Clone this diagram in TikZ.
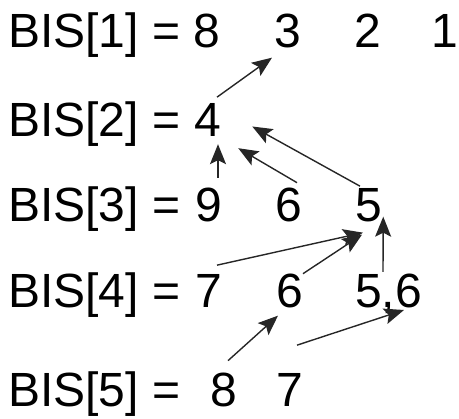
\documentclass[tikz,border=0pt]{standalone}
\usepackage{fontspec}
\setmainfont{Liberation Sans}
\usetikzlibrary{arrows.meta,calc}
\tikzset{
  lbl/.style={anchor=base west,inner sep=0pt,font=\fontsize{48}{50}\selectfont},
  num/.style={anchor=base,inner sep=0pt,font=\fontsize{48}{50}\selectfont},
  arrtip/.tip={Stealth[length=20pt,width=16pt,inset=4pt]},
  arr/.style={line width=1.4pt,color=black!85,-arrtip}
}
\begin{document}
\begin{tikzpicture}[x=1pt,y=1pt]
\useasboundingbox (0,0) rectangle (459,419);
% row labels
\node[lbl] (r1) at (8,371) {BIS[1] =};
\node[lbl] (r2) at (8,282) {BIS[2] =};
\node[lbl] (r3) at (8,197) {BIS[3] =};
\node[lbl] (r4) at (8,111) {BIS[4] =};
\node[lbl] (r5) at (8,12) {BIS[5] =};
% numbers
\node[num] (n11) at (207,371) {8};
\node[num] (n12) at (288,371) {3};
\node[num] (n13) at (368,371) {2};
\node[num] (n14) at (445,371) {1};
\node[num] (n21) at (208,282) {4};
\node[num] (n31) at (209,197) {9};
\node[num] (n32) at (289,197) {6};
\node[num] (n33) at (369,197) {5};
\node[num] (n41) at (209,111) {7};
\node[num] (n42) at (290,111) {6};
\node[lbl] (n43) at (355,111) {5,6};
\node[num] (n51) at (223.5,12) {8};
\node[num] (n52) at (290,12) {7};
% arrows
\draw[arr] ($(n21.north)+(9,6.6)$) -- ($(n12.south)+(-16,-9)$);
\draw[arr] ($(n33.north)+(-9,2.6)$) -- ($(n21.east)+(30.7,-6)$);
\draw[arr] ($(n32.north)+(8,5.6)$) -- ($(n21.south east)+(16.7,-11)$);
\draw[arr] ($(n31.north)+(9,10.6)$) -- ($(n21.south)+(10,-7)$);
\draw[arr] ($(n41.north)+(8,9.6)$) -- ($(n33.south)+(-6,-10)$);
\draw[arr] ($(n42.north)+(13,0.6)$) -- ($(n33.south)+(-7,-12)$);
\draw[arr] ($(n43.base west)+(28,36)$) -- ($(n33.south east)+(0.7,6)$);
\draw[arr] ($(n51.north)+(4.5,12.6)$) -- ($(n42.south)+(-12,-7)$);
\draw[arr] ($(n52.north)+(7,28.6)$) -- ($(n43.base west)+(49,-2)$);
\end{tikzpicture}
\end{document}
